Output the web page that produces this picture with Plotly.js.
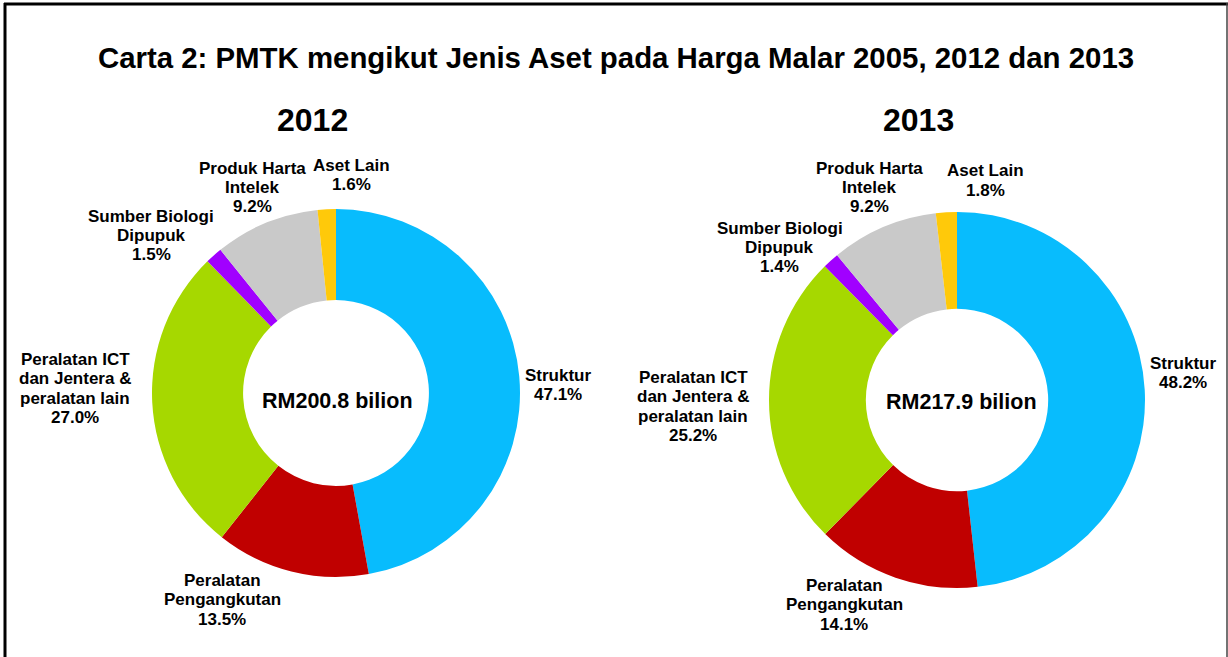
<!DOCTYPE html>
<html>
<head>
<meta charset="utf-8">
<script src="https://cdn.plot.ly/plotly-3.0.1.min.js"></script>
<style>
html,body{margin:0;padding:0;background:#fff;}
#chart{width:1228px;height:657px;}
</style>
</head>
<body>
<div id="chart"></div>
<script>
// ---- data ----
const categories = [
  "Struktur",
  "Peralatan<br>Pengangkutan",
  "Peralatan ICT<br>dan Jentera &<br>peralatan lain",
  "Sumber Biologi<br>Dipupuk",
  "Produk Harta<br>Intelek",
  "Aset Lain"
];
const values2012 = [47.1, 13.5, 27.0, 1.5, 9.2, 1.6];
const values2013 = [48.2, 14.1, 25.2, 1.4, 9.2, 1.8];
const total2012 = "RM200.8 bilion";
const total2013 = "RM217.9 bilion";
const chartTitle = "Carta 2: PMTK mengikut Jenis Aset pada Harga Malar 2005, 2012 dan 2013";
const yearLabels = ["2012", "2013"];

// ---- styling / layout ----
const colors = ["#08BCFD", "#C00000", "#A6D800", "#A100FF", "#C9C9C9", "#FFC90A"];
const W = 1228, H = 657;
const px = x => x / W;
const py = y => 1 - y / H;
const fontB = "Liberation Sans, Arial, sans-serif";

// label block placement (pixel centre of first line), one per slice
const labelPos2012 = [[558, 375], [222, 580], [75, 359], [151, 216], [252, 168], [351, 165]];
const labelPos2013 = [[1183, 363], [844, 585], [693, 377], [780, 228], [869, 168], [985, 171]];
const lineStep = 19.5;

function donut(vals, cx, cy, r, hole) {
  return {
    type: "pie",
    values: vals,
    labels: categories.map(c => c.replace(/<br>/g, " ")),
    sort: false,
    direction: "clockwise",
    rotation: 0,
    hole: hole,
    marker: {colors: colors, line: {width: 0}},
    textinfo: "none",
    domain: {x: [px(cx - r), px(cx + r)], y: [py(cy + r), py(cy - r)]},
    hoverinfo: "label+value",
    showlegend: false
  };
}

function sliceLabels(vals, positions) {
  const out = [];
  categories.forEach((cat, i) => {
    const lines = cat.split("<br>").concat([vals[i].toFixed(1) + "%"]);
    lines.forEach((ln, j) => {
      out.push({
        text: "<b>" + ln + "</b>",
        x: px(positions[i][0]), y: py(positions[i][1] + j * lineStep),
        xref: "paper", yref: "paper", xanchor: "center", yanchor: "middle",
        showarrow: false,
        font: {family: fontB, size: 17, color: "#000"}
      });
    });
  });
  return out;
}

const data = [
  donut(values2012, 336, 393, 184, 0.505),
  donut(values2013, 957, 400, 188, 0.485)
];

const annotations = [
  {text: "<b>" + yearLabels[0] + "</b>", x: px(312), y: py(120), xref: "paper", yref: "paper", xanchor: "center", yanchor: "middle", showarrow: false, font: {family: fontB, size: 32, color: "#000"}},
  {text: "<b>" + yearLabels[1] + "</b>", x: px(918), y: py(120), xref: "paper", yref: "paper", xanchor: "center", yanchor: "middle", showarrow: false, font: {family: fontB, size: 32, color: "#000"}},
  {text: "<b>" + total2012 + "</b>", x: px(337), y: py(401), xref: "paper", yref: "paper", xanchor: "center", yanchor: "middle", showarrow: false, font: {family: fontB, size: 21.5, color: "#000"}},
  {text: "<b>" + total2013 + "</b>", x: px(961), y: py(402), xref: "paper", yref: "paper", xanchor: "center", yanchor: "middle", showarrow: false, font: {family: fontB, size: 21.5, color: "#000"}}
].concat(sliceLabels(values2012, labelPos2012), sliceLabels(values2013, labelPos2013));

const layout = {
  width: W, height: H,
  margin: {l: 0, r: 0, t: 0, b: 0},
  paper_bgcolor: "#fff",
  showlegend: false,
  title: {text: "<b>" + chartTitle + "</b>", x: px(616), xanchor: "center", y: py(58), yanchor: "middle",
          font: {family: fontB, size: 29.4, color: "#000"}},
  annotations: annotations,
  shapes: [
    {type: "line", xref: "paper", yref: "paper", x0: px(4), x1: px(1228), y0: py(4), y1: py(4), line: {color: "#000", width: 3}},
    {type: "line", xref: "paper", yref: "paper", x0: px(5), x1: px(5), y0: py(3), y1: py(660), line: {color: "#000", width: 3}},
    {type: "line", xref: "paper", yref: "paper", x0: px(1227), x1: px(1227), y0: py(3), y1: py(660), line: {color: "#444", width: 1.5}}
  ]
};

Plotly.newPlot("chart", data, layout, {displayModeBar: false, staticPlot: true});
</script>
</body>
</html>
